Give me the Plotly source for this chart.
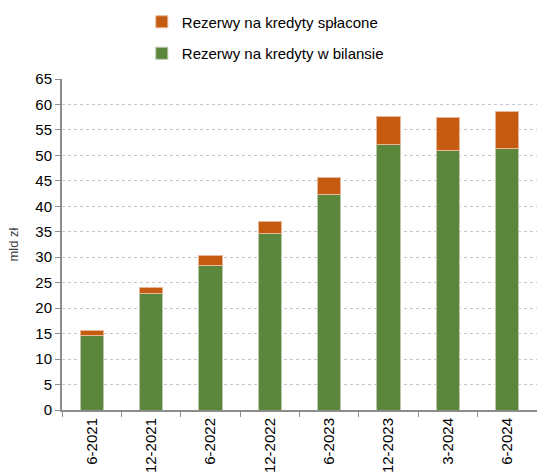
import plotly.graph_objects as go

# Reserves for loans (PLN bn)
periods = ["6-2021", "12-2021", "6-2022", "12-2022", "6-2023", "12-2023", "3-2024", "6-2024"]
on_balance = [14.7, 22.8, 28.4, 34.7, 42.3, 52.2, 51.0, 51.3]
repaid = [0.9, 1.3, 1.9, 2.3, 3.3, 5.4, 6.5, 7.4]

series_on_balance = "Rezerwy na kredyty w bilansie"
series_repaid = "Rezerwy na kredyty spłacone"

green = "#5b873c"
orange = "#c55a11"
axis_grey = "#8c8c8c"
font_family = "Liberation Sans, Arial, sans-serif"

fig = go.Figure()
fig.add_trace(go.Bar(
    x=periods, y=on_balance, name=series_on_balance,
    marker=dict(color=green, line=dict(color="#b9c9ad", width=1)),
    legendgroup="a", legendrank=2,
))
fig.add_trace(go.Bar(
    x=periods, y=repaid, name=series_repaid,
    marker=dict(color=orange, line=dict(color="#eab79a", width=1)),
    legendgroup="b", legendrank=1,
))

fig.update_layout(
    width=537, height=475,
    margin=dict(l=62, r=0, t=79, b=65, autoexpand=False),
    barmode="stack",
    bargap=0.61,
    plot_bgcolor="white",
    paper_bgcolor="white",
    font=dict(family=font_family, size=15, color="#000000"),
    showlegend=True,
    legend=dict(
        orientation="v",
        traceorder="grouped",
        tracegroupgap=9,
        x=0.168, y=1.222, xanchor="left", yanchor="top",
        font=dict(size=15, color="#000000"),
        itemwidth=30,
        bgcolor="rgba(0,0,0,0)",
    ),
    xaxis=dict(
        type="category",
        tickangle=-90,
        showline=True, linecolor=axis_grey, linewidth=2,
        ticks="outside", ticklen=5, tickcolor=axis_grey, tickwidth=1,
        tickson="boundaries",
        showgrid=False,
        tickfont=dict(size=15),
        automargin=False,
    ),
    yaxis=dict(
        range=[0, 65],
        tickvals=list(range(0, 66, 5)),
        showline=True, linecolor=axis_grey, linewidth=2,
        ticks="outside", ticklen=5, tickcolor=axis_grey, tickwidth=1,
        showgrid=True, gridcolor="#c4c4cc", gridwidth=1, griddash="dot",
        zeroline=False,
        tickfont=dict(size=15),
        automargin=False,
        title=dict(text="mld zł", font=dict(size=13, color="#404040"), standoff=14),
    ),
)

fig.write_html("out.html")
